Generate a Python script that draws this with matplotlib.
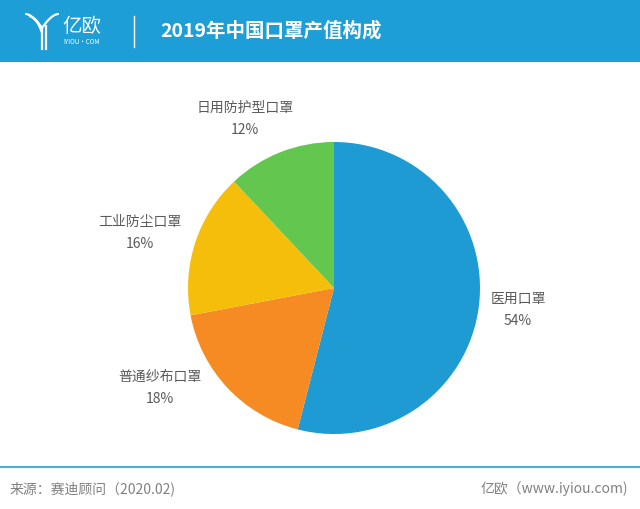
import matplotlib
matplotlib.use("Agg")
import matplotlib.pyplot as plt
import numpy as np

plt.rcParams['font.family'] = ['Noto Sans CJK SC', 'DejaVu Sans']

title = "2019年中国口罩产值构成"
categories = ["医用口罩", "普通纱布口罩", "工业防尘口罩", "日用防护型口罩"]
values = [54, 18, 16, 12]
colors = ["#1F9BD3", "#F58B22", "#F5BE0B", "#63C64F"]
source = "来源：赛迪顾问（2020.02)"
credit = "亿欧（www.iyiou.com)"

W, H = 640, 509
fig = plt.figure(figsize=(W / 100, H / 100), dpi=100)
fig.patch.set_facecolor("white")

def fx(x):
    return x / W

def fy(y):
    return 1 - y / H

# header band
bg = fig.add_axes([0, 0, 1, 1], zorder=0)
bg.set_xlim(0, W)
bg.set_ylim(H, 0)
bg.axis("off")
bg.add_patch(plt.Rectangle((0, 0), W, 62, color="#1E9ED6", lw=0))
# logo symbol (stylised Y)
t = np.linspace(0, 1, 30)
for off in [0, 4, 8]:
    xs = 26 + off + (16 - off) * t ** 0.6
    ys = 14 + off * 0.6 + 14 * t
    bg.plot(xs, ys, color="white", lw=1.6, solid_capstyle="round")
bg.plot(58 - 16 * t ** 0.6, 14 + 14 * t, color="white", lw=1.6,
        solid_capstyle="round")
bg.plot([42, 42], [28, 49], color="white", lw=1.6)
bg.plot([46, 46], [26, 49], color="white", lw=1.6)
bg.text(62, 26, "亿欧", color="white", fontsize=14, va="center", ha="left")
bg.text(63, 42, "IYIOU·COM", color="white", fontsize=4.5, va="center", ha="left")
bg.plot([134, 134], [16, 47], color="white", lw=1)
bg.text(160, 31, title, color="white", fontsize=14, fontweight="bold",
        va="center", ha="left")

# footer
bg.plot([0, W], [467, 467], color="#4BAFDD", lw=1.5)
bg.text(10, 489, source, color="#808080", fontsize=10, va="center", ha="left")
bg.text(628, 489, credit, color="#808080", fontsize=10, va="center", ha="right")

# pie
cx, cy, r = 334, 288, 146
ax = fig.add_axes([fx(cx - r), fy(cy + r), 2 * r / W, 2 * r / H], zorder=1)
labels = [f"{c}\n{v}%" for c, v in zip(categories, values)]
# label anchor positions (in pie-radius units), as laid out in the original
label_pos = [(1.26, -0.15), (-1.19, -0.685), (-1.33, 0.377), (-0.61, 1.158)]
wedges, texts = ax.pie(values, colors=colors, startangle=90, counterclock=False,
                       labels=labels, labeldistance=1.32,
                       wedgeprops=dict(linewidth=0),
                       textprops=dict(color="#5a5a5a", fontsize=10,
                                      linespacing=1.75))
for tx, pos in zip(texts, label_pos):
    tx.set_position(pos)
    tx.set_ha("center")
    tx.set_va("center")
ax.set_xlim(-1, 1)
ax.set_ylim(-1, 1)
ax.set_aspect("auto")

fig.savefig("out.png", dpi=100, facecolor="white")
